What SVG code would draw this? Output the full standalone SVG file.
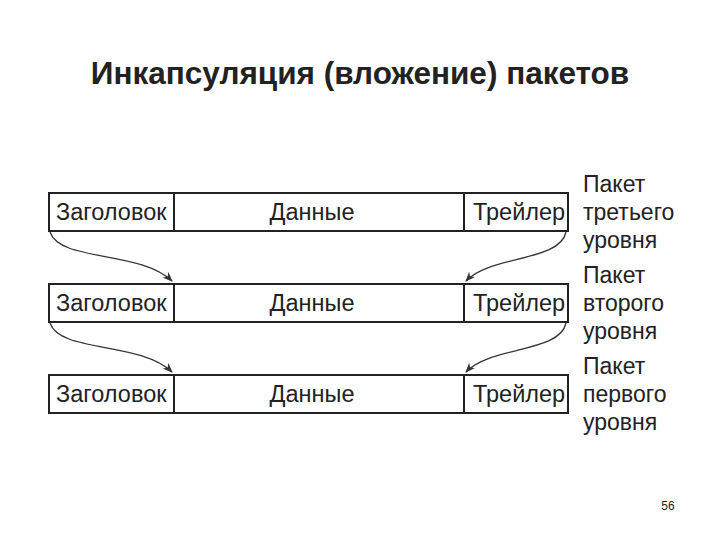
<svg xmlns="http://www.w3.org/2000/svg" width="720" height="540" viewBox="0 0 720 540">
<style>
text{font-family:"Liberation Sans",Arial,sans-serif;fill:#222}
.c{font-size:23.5px}
.l{font-size:23px}
.b{fill:#fff;stroke:#222;stroke-width:2}
.d{stroke:#222;stroke-width:2}
.a{fill:none;stroke:#333;stroke-width:1.3;marker-end:url(#m)}
</style>
<defs><marker id="m" markerWidth="10" markerHeight="8" refX="9" refY="4" orient="auto" markerUnits="userSpaceOnUse"><path d="M0,0 L10,4 L0,8 L3,4 Z" fill="#333"/></marker></defs>
<rect width="720" height="540" fill="#fff"/>
<text x="360" y="84" text-anchor="middle" font-size="31.5" font-weight="bold">Инкапсуляция (вложение) пакетов</text>
<g id="row1"><rect class="b" x="49" y="193" width="519" height="38"/><line class="d" x1="174" y1="193" x2="174" y2="231"/><line class="d" x1="464" y1="193" x2="464" y2="231"/>
<text class="c" x="56" y="220">Заголовок</text><text class="c" x="312" y="220" text-anchor="middle">Данные</text><text class="c" x="473" y="220">Трейлер</text></g>
<g id="row2"><rect class="b" x="49" y="284" width="519" height="38"/><line class="d" x1="174" y1="284" x2="174" y2="322"/><line class="d" x1="464" y1="284" x2="464" y2="322"/>
<text class="c" x="56" y="311">Заголовок</text><text class="c" x="312" y="311" text-anchor="middle">Данные</text><text class="c" x="473" y="311">Трейлер</text></g>
<g id="row3"><rect class="b" x="49" y="375" width="519" height="38"/><line class="d" x1="174" y1="375" x2="174" y2="413"/><line class="d" x1="464" y1="375" x2="464" y2="413"/>
<text class="c" x="56" y="402">Заголовок</text><text class="c" x="312" y="402" text-anchor="middle">Данные</text><text class="c" x="473" y="402">Трейлер</text></g>
<g id="labels">
<text class="l" x="583" y="192">Пакет</text><text class="l" x="583" y="220">третьего</text><text class="l" x="583" y="248">уровня</text>
<text class="l" x="583" y="283">Пакет</text><text class="l" x="583" y="311">второго</text><text class="l" x="583" y="339">уровня</text>
<text class="l" x="583" y="374">Пакет</text><text class="l" x="583" y="402">первого</text><text class="l" x="583" y="430">уровня</text>
</g>
<g id="connectors">
<path class="a" d="M50,232 C60,262 140,250 172,281"/>
<path class="a" d="M566,232 C560,262 490,255 466,281"/>
<path class="a" d="M50,323 C60,353 140,341 172,372"/>
<path class="a" d="M566,323 C560,353 490,346 466,372"/>
</g>
<text x="668" y="510" font-size="12" text-anchor="middle">56</text>
</svg>
